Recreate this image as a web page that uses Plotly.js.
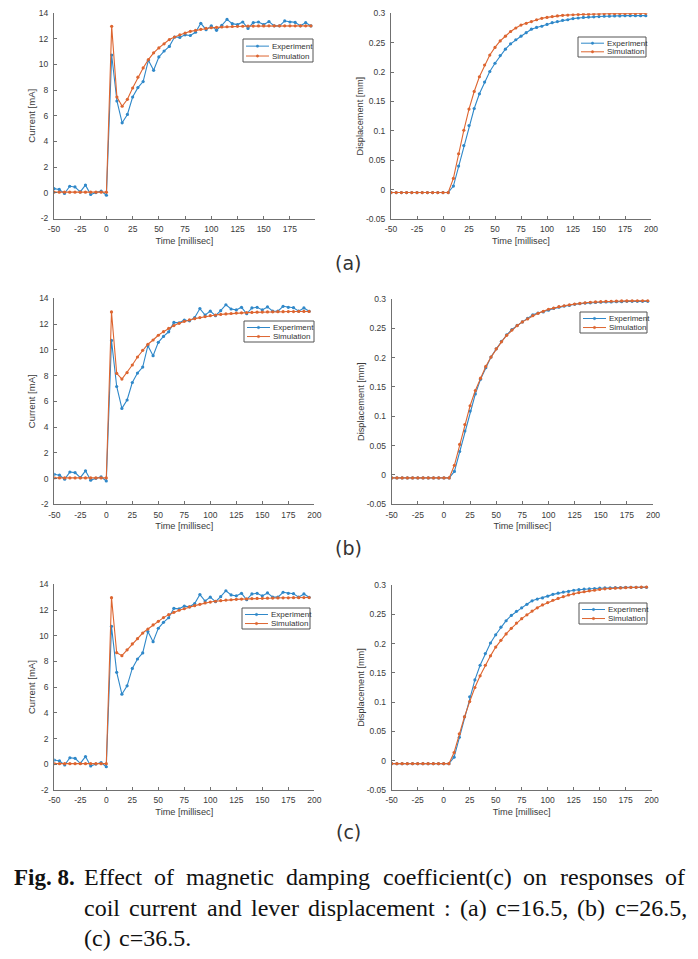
<!DOCTYPE html>
<html>
<head>
<meta charset="utf-8">
<script src="https://cdn.plot.ly/plotly-3.0.1.min.js"></script>
<style>
html,body{margin:0;padding:0;background:#fff;}
#chart{width:698px;height:959px;}
</style>
</head>
<body>
<div id="chart"></div>
<script>
// ---------------- DATA ----------------
const time = [-50,-45,-40,-35,-30,-25,-20,-15,-10,-5,0,5,10,15,20,25,30,35,40,45,50,55,60,65,70,75,80,85,90,95,100,105,110,115,120,125,130,135,140,145,150,155,160,165,170,175,180,185,190,195];

const expCurrent = [0.33,0.26,-0.05,0.51,0.46,0.07,0.6,-0.13,0.02,0.13,-0.19,
  10.73,7.15,5.45,6.1,7.46,8.19,8.66,10.32,9.54,10.58,11.04,11.4,12.13,12.1,12.3,12.25,12.5,13.2,12.7,13.0,
  12.65,13.04,13.5,13.17,13.1,13.3,12.8,13.25,13.3,13.1,13.33,13.0,13.0,13.38,13.3,13.27,13.0,13.25,12.99];

const simCurrentA = [0.05,0.05,0.05,0.05,0.05,0.05,0.05,0.05,0.05,0.05,0.05,
  12.96,7.46,6.74,7.28,8.16,9.0,9.72,10.37,10.9,11.28,11.6,11.93,12.13,12.3,12.44,12.57,12.65,12.73,12.8,12.85,
  12.88,12.91,12.93,12.95,12.96,12.97,12.98,12.98,12.99,12.99,13.0,13.0,13.0,13.0,13.0,13.0,13.0,13.0,13.0];

const simCurrentB = [0.05,0.05,0.05,0.05,0.05,0.05,0.05,0.05,0.05,0.05,0.05,
  12.94,8.17,7.73,8.23,8.82,9.44,9.96,10.43,10.76,11.13,11.41,11.67,11.88,12.06,12.21,12.32,12.42,12.5,12.58,12.65,
  12.7,12.75,12.79,12.82,12.85,12.87,12.89,12.9,12.92,12.93,12.94,12.95,12.96,12.96,12.97,12.97,12.98,12.98,12.98];

const simCurrentC = [0.05,0.05,0.05,0.05,0.05,0.05,0.05,0.05,0.05,0.05,0.05,
  12.96,8.68,8.45,8.9,9.36,9.77,10.21,10.52,10.84,11.12,11.41,11.64,11.82,11.98,12.1,12.24,12.34,12.44,12.55,12.62,
  12.68,12.73,12.77,12.8,12.83,12.85,12.87,12.89,12.9,12.91,12.92,12.93,12.94,12.95,12.95,12.96,12.96,12.97,12.97];

const expDisp = [-0.005,-0.005,-0.005,-0.005,-0.005,-0.005,-0.005,-0.005,-0.005,-0.005,-0.005,-0.005,
  0.006,0.04,0.075,0.109,0.138,0.163,0.183,0.201,0.215,0.228,0.239,0.248,0.255,0.261,0.267,0.273,0.276,0.278,0.281,
  0.284,0.286,0.288,0.289,0.291,0.292,0.293,0.2935,0.294,0.2945,0.295,0.295,0.2955,0.2955,0.296,0.296,0.296,0.296,0.296];

const simDispA = [-0.005,-0.005,-0.005,-0.005,-0.005,-0.005,-0.005,-0.005,-0.005,-0.005,-0.005,-0.005,
  0.019,0.061,0.101,0.137,0.167,0.192,0.212,0.229,0.242,0.253,0.261,0.269,0.275,0.28,0.283,0.286,0.289,0.2915,0.293,
  0.2945,0.2955,0.2965,0.297,0.2975,0.298,0.2985,0.2985,0.299,0.299,0.2993,0.2995,0.2995,0.2997,0.2997,0.2998,0.2998,0.2999,0.2999];

const simDispB = [-0.005,-0.005,-0.005,-0.005,-0.005,-0.005,-0.005,-0.005,-0.005,-0.005,-0.005,-0.005,
  0.0165,0.052,0.086,0.118,0.144,0.165,0.185,0.201,0.215,0.227,0.238,0.247,0.2545,0.261,0.266,0.2715,0.2755,0.279,0.2825,
  0.2845,0.287,0.2885,0.29,0.2915,0.2925,0.2935,0.2945,0.295,0.2955,0.296,0.2962,0.2965,0.2967,0.2968,0.297,0.297,0.297,0.297];

const simDispC = [-0.005,-0.005,-0.005,-0.005,-0.005,-0.005,-0.005,-0.005,-0.005,-0.005,-0.005,-0.005,
  0.014,0.046,0.075,0.101,0.125,0.145,0.163,0.179,0.194,0.2055,0.2165,0.226,0.235,0.2425,0.249,0.2555,0.261,0.266,0.27,
  0.274,0.277,0.28,0.283,0.285,0.287,0.2885,0.29,0.291,0.2925,0.2935,0.294,0.2945,0.295,0.2955,0.296,0.296,0.2965,0.2965];

const seriesNames = ['Experiment','Simulation'];
const xTickVals = [-50,-25,0,25,50,75,100,125,150,175,200];
const currentTicks = [-2,0,2,4,6,8,10,12,14];
const dispTickVals = [-0.05,0,0.05,0.1,0.15,0.2,0.25,0.3];
const dispTickText = ['-0.05','0','0.05','0.1','0.15','0.2','0.25','0.3'];
const panelLabels = ['(a)','(b)','(c)'];
const captionBold = 'Fig. 8.';
const captionLine1 = 'Effect of magnetic damping coefficient(c) on responses of';
const captionLine2 = 'coil current and lever displacement : (a) c=16.5, (b) c=26.5,';
const captionLine3 = ['(c)','c=36.5.'];

// ---------------- LAYOUT HELPERS ----------------
const W = 698, H = 959;
const px = x => x / W;
const py = y => 1 - y / H;
const BLUE = '#2f88c9';
const ORANGE = '#dd6530';
const AX = '#707070';
const TXT = '#3a3a3a';
const SANS = 'Liberation Sans, Arial, sans-serif';

const panels = [
  {sim: simCurrentA, exp: expCurrent, kind: 'cur', x0: 54, x1: 314.7, y0: 13, y1: 218.5, xr: [-50, 198.6], leg: [243, 39, 313, 62]},
  {sim: simDispA, exp: expDisp, kind: 'disp', x0: 391, x1: 651, y0: 13.3, y1: 219, xr: [-50, 200], leg: [578, 37, 646, 57]},
  {sim: simCurrentB, exp: expCurrent, kind: 'cur', x0: 54.3, x1: 314.3, y0: 298.3, y1: 504.3, xr: [-50, 200], leg: [244, 321, 314, 342]},
  {sim: simDispB, exp: expDisp, kind: 'disp', x0: 391.7, x1: 653, y0: 299, y1: 504.3, xr: [-50, 200], leg: [580, 312, 647, 333]},
  {sim: simCurrentC, exp: expCurrent, kind: 'cur', x0: 54.3, x1: 314.3, y0: 584.3, y1: 790, xr: [-50, 200], leg: [242, 608, 310, 629]},
  {sim: simDispC, exp: expDisp, kind: 'disp', x0: 391.7, x1: 651.7, y0: 585, y1: 790, xr: [-50, 200], leg: [579, 603, 647, 624]}
];

const traces = [];
const layout = {
  width: W, height: H,
  margin: {l: 0, r: 0, t: 0, b: 0},
  paper_bgcolor: '#fff', plot_bgcolor: '#fff',
  showlegend: false,
  font: {family: SANS, color: TXT},
  shapes: [], annotations: []
};

panels.forEach((p, i) => {
  const n = i + 1;
  const xa = n === 1 ? 'x' : 'x' + n;
  const ya = n === 1 ? 'y' : 'y' + n;
  const xk = n === 1 ? 'xaxis' : 'xaxis' + n;
  const yk = n === 1 ? 'yaxis' : 'yaxis' + n;
  [[p.exp, BLUE, seriesNames[0]], [p.sim, ORANGE, seriesNames[1]]].forEach(([vals, col, nm]) => {
    traces.push({
      type: 'scatter', mode: 'lines+markers', name: nm,
      x: time, y: vals, xaxis: xa, yaxis: ya,
      line: {color: col, width: 1.1},
      marker: {color: col, size: 3.2, symbol: 'circle'},
      hoverinfo: 'skip'
    });
  });
  const common = {
    showline: true, linecolor: AX, linewidth: 1,
    ticks: 'inside', ticklen: 3, tickcolor: AX, tickwidth: 1,
    showgrid: false, zeroline: false, mirror: false,
    tickfont: {family: SANS, size: 8.5, color: TXT},
    fixedrange: true
  };
  layout[xk] = Object.assign({}, common, {
    domain: [px(p.x0), px(p.x1)], anchor: ya, range: p.xr,
    tickmode: 'array', tickvals: xTickVals, ticktext: xTickVals.map(String),
    ticklabelstandoff: 2,
    title: {text: 'Time [millisec]', font: {size: 9.2, color: TXT}, standoff: 4}
  });
  if (p.kind === 'cur') {
    layout[yk] = Object.assign({}, common, {
      domain: [py(p.y1), py(p.y0)], anchor: xa, range: [-2, 14],
      tickmode: 'array', tickvals: currentTicks, ticktext: currentTicks.map(String),
      ticklabelstandoff: 3,
      title: {text: 'Current [mA]', font: {size: 9.5, color: TXT}, standoff: 1}
    });
  } else {
    layout[yk] = Object.assign({}, common, {
      domain: [py(p.y1), py(p.y0)], anchor: xa, range: [-0.05, 0.3],
      tickmode: 'array', tickvals: dispTickVals, ticktext: dispTickText,
      ticklabelstandoff: 3,
      title: {text: 'Displacement [mm]', font: {size: 9.2, color: TXT}, standoff: 0}
    });
  }
  // legend box (decoration)
  const [lx0, ly0, lx1, ly1] = p.leg;
  layout.shapes.push({type: 'rect', xref: 'paper', yref: 'paper',
    x0: px(lx0), x1: px(lx1), y0: py(ly1), y1: py(ly0),
    line: {color: '#555', width: 1}, fillcolor: '#fff', layer: 'above'});
  const rows = [ly0 + (ly1 - ly0) * 0.31, ly0 + (ly1 - ly0) * 0.74];
  [[BLUE, seriesNames[0]], [ORANGE, seriesNames[1]]].forEach(([col, nm], k) => {
    const yy = rows[k];
    layout.shapes.push({type: 'line', xref: 'paper', yref: 'paper',
      x0: px(lx0 + 3), x1: px(lx0 + 26), y0: py(yy), y1: py(yy),
      line: {color: col, width: 1}, layer: 'above'});
    layout.shapes.push({type: 'circle', xref: 'paper', yref: 'paper',
      x0: px(lx0 + 13.3), x1: px(lx0 + 15.7), y0: py(yy + 1.2), y1: py(yy - 1.2),
      line: {color: col, width: 0.5}, fillcolor: col, layer: 'above'});
    layout.annotations.push({xref: 'paper', yref: 'paper', x: px(lx0 + 27.5), y: py(yy),
      xanchor: 'left', yanchor: 'middle', showarrow: false, borderpad: 0,
      text: nm, font: {family: SANS, size: 8, color: '#333'}});
  });
});

// panel labels
[263, 548, 832].forEach((yy, i) => {
  layout.annotations.push({xref: 'paper', yref: 'paper', x: px(348), y: py(yy),
    xanchor: 'center', yanchor: 'middle', showarrow: false, borderpad: 0,
    text: panelLabels[i], font: {family: 'DejaVu Sans, sans-serif', size: 19, color: '#333'}});
});

// caption (justified lines)
const CAPFONT = 'Liberation Serif';
const CAPSIZE = 24;
const ctx = document.createElement('canvas').getContext('2d');
function measure(t, bold, size) {
  ctx.font = (bold ? 'bold ' : '') + (size || CAPSIZE) + 'px "Liberation Serif"';
  return ctx.measureText(t).width;
}
function addWord(t, x, y, bold, size) {
  layout.annotations.push({xref: 'paper', yref: 'paper', x: px(x), y: py(y),
    xanchor: 'left', yanchor: 'middle', showarrow: false, borderpad: 0,
    text: bold ? '<b>' + t + '</b>' : t,
    font: {family: CAPFONT, size: size || CAPSIZE, color: '#111'}});
}
function justify(line, left, right, y) {
  const words = line.split(' ');
  const widths = words.map(w => measure(w, false));
  const total = widths.reduce((a, b) => a + b, 0);
  let gap = (right - left - total) / (words.length - 1);
  if (!(gap > 3)) gap = 6;
  let x = left;
  words.forEach((w, k) => { addWord(w, x, y, false); x += widths[k] + gap; });
}
const capY = [877, 908, 938];
const capIndent = 83;
addWord(captionBold, 13, capY[0], true, 23);
justify(captionLine1, capIndent, 684, capY[0]);
justify(captionLine2, capIndent, 686, capY[1]);
addWord(captionLine3[0], capIndent, capY[2], false);
addWord(captionLine3[1], capIndent + measure(captionLine3[0], false) + 8, capY[2], false);

Plotly.newPlot('chart', traces, layout, {staticPlot: true, displayModeBar: false});
</script>
</body>
</html>
